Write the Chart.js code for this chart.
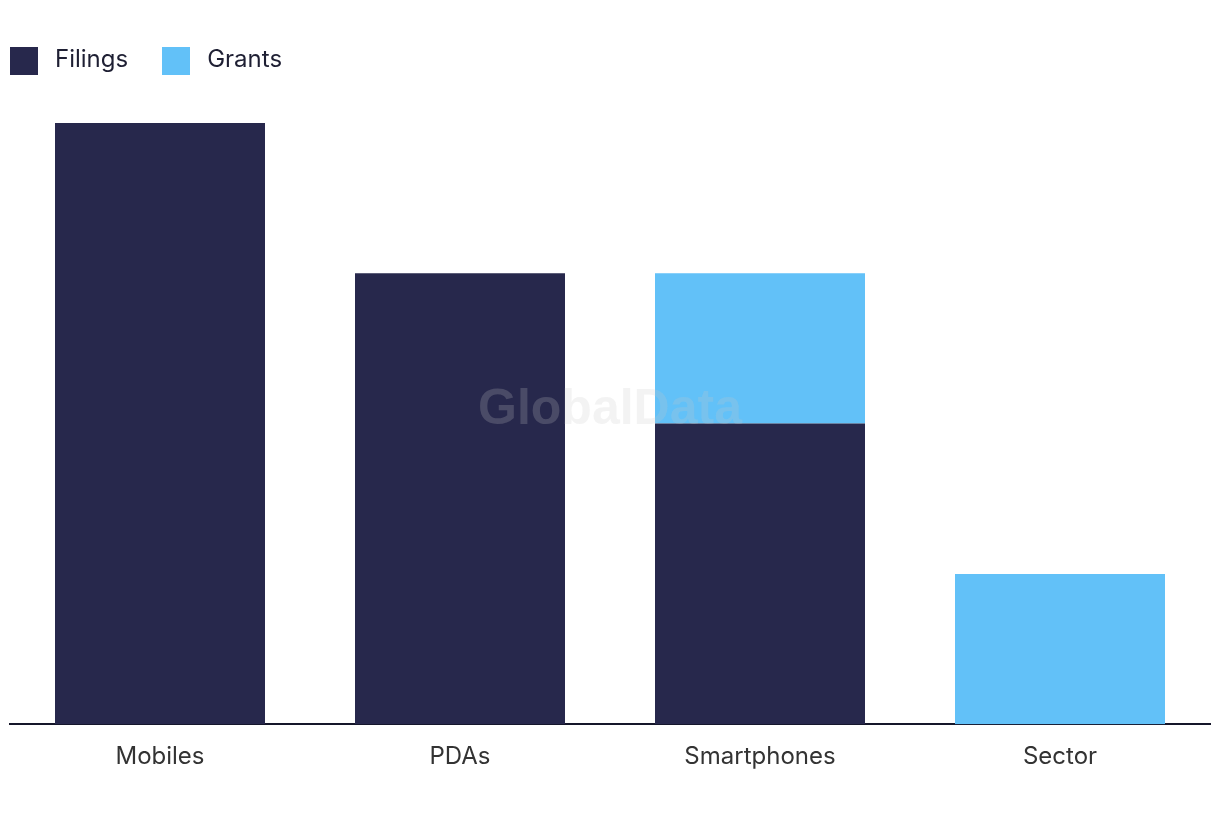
<!DOCTYPE html>
<html>
<head>
<meta charset="utf-8">
<script src="https://cdn.jsdelivr.net/npm/chart.js@4"></script>
<style>
  html, body { margin: 0; padding: 0; background: #fff; }
  #wrap { position: relative; width: 1220px; height: 820px; }
  #legend { position: absolute; left: 10px; top: 44px; font: 24px Inter, "Noto Sans", sans-serif; color: #1e1f33; }
  #legend span.item { display: inline-block; margin-right: 34px; line-height: 28px; height: 28px; }
  #legend span.box { display: inline-block; width: 28px; height: 28px; vertical-align: top; margin-top: 2px; margin-right: 17px; }
</style>
</head>
<body>
<div id="wrap">
  <canvas id="chart" width="1220" height="820"></canvas>
  <div id="legend"></div>
</div>
<script>
var categories = ['Mobiles', 'PDAs', 'Smartphones', 'Sector'];
var filings = [4, 3, 2, 0];
var grants = [0, 0, 1, 1];
var seriesNames = ['Filings', 'Grants'];
var seriesColors = ['#27284c', '#62c1f8'];

// faint watermark in the middle of the plot
var watermark = {
  id: 'watermark',
  afterDatasetsDraw: function(chart) {
    var ctx = chart.ctx, a = chart.chartArea;
    ctx.save();
    ctx.font = 'bold 50px "Liberation Sans", Arial, sans-serif';
    ctx.fillStyle = 'rgba(200,200,200,0.22)';
    ctx.textAlign = 'center';
    ctx.textBaseline = 'middle';
    ctx.fillText('GlobalData', (a.left + a.right) / 2, 410);
    ctx.restore();
  }
};

Chart.defaults.font.family = 'Inter, "Noto Sans", sans-serif';

var chart = new Chart(document.getElementById('chart'), {
  type: 'bar',
  data: {
    labels: categories,
    datasets: [
      { label: seriesNames[0], data: filings, backgroundColor: seriesColors[0], barPercentage: 0.7, categoryPercentage: 1 },
      { label: seriesNames[1], data: grants, backgroundColor: seriesColors[1], barPercentage: 0.7, categoryPercentage: 1 }
    ]
  },
  options: {
    responsive: false,
    animation: false,
    layout: { padding: { left: 10, right: 10, top: 123, bottom: 39 } },
    plugins: {
      legend: { display: false },
      tooltip: { enabled: false }
    },
    scales: {
      x: {
        stacked: true,
        grid: { display: false },
        border: { display: true, color: '#15162a', width: 2 },
        ticks: { color: '#333', font: { size: 24 }, padding: 10 }
      },
      y: {
        stacked: true,
        display: false,
        min: 0,
        max: 4
      }
    }
  },
  plugins: [watermark]
});

var html = '';
chart.data.datasets.forEach(function(ds) {
  html += '<span class="item"><span class="box" style="background:' + ds.backgroundColor + '"></span>' + ds.label + '</span>';
});
document.getElementById('legend').innerHTML = html;
</script>
</body>
</html>
